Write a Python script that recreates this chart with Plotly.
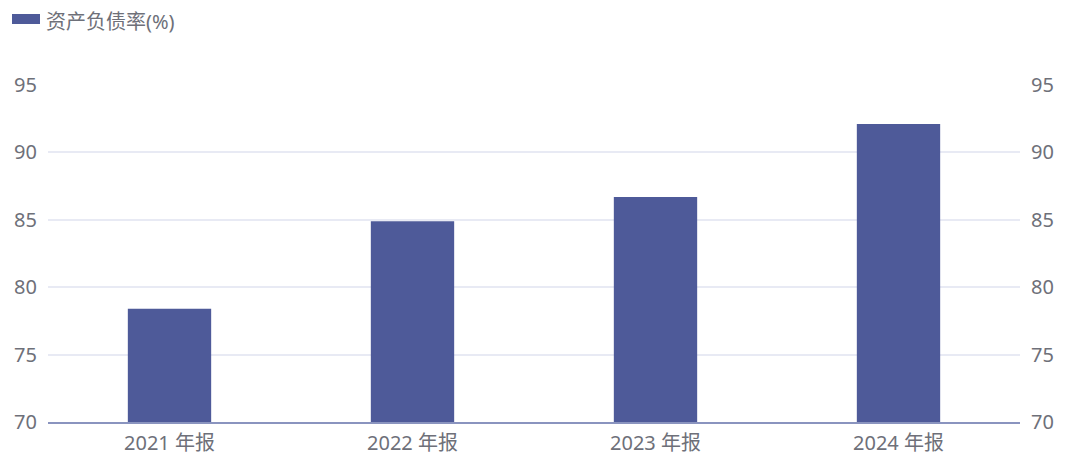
import plotly.graph_objects as go

categories = ["2021 年报", "2022 年报", "2023 年报", "2024 年报"]
debt_ratio = [78.4, 84.9, 86.7, 92.1]
series_name = "资产负债率(%)"
y_ticks = [70, 75, 80, 85, 90, 95]

FONT = "Noto Sans, Noto Sans CJK SC, sans-serif"
TXT = "#6e7079"
BAR = "#4e5a99"

# page body has an 8px margin, so the figure origin sits at (8, 8)
OFF = 8
W, H = 1072, 449
ML, MR, MT, MB = 48 - OFF, 60, 85 - OFF, 35
PW, PH = W - ML - MR, H - MT - MB


def px_x(p):
    return (p - OFF - ML) / PW


def px_y(p):
    return 1 - (p - OFF - MT) / PH


fig = go.Figure()
fig.add_trace(go.Bar(
    x=categories, y=debt_ratio, name=series_name,
    marker=dict(color=BAR, line=dict(width=0)),
    yaxis="y", showlegend=False,
))
fig.add_trace(go.Scatter(
    x=categories, y=debt_ratio, yaxis="y2", mode="markers",
    marker=dict(opacity=0), showlegend=False, hoverinfo="skip",
))

# legend (icon + label)
fig.add_shape(type="rect", xref="paper", yref="paper",
              x0=px_x(12), x1=px_x(40), y0=px_y(24), y1=px_y(14),
              fillcolor=BAR, line=dict(width=0))
fig.add_annotation(xref="paper", yref="paper", x=px_x(45), y=px_y(21.5),
                   xanchor="left", yanchor="middle", showarrow=False,
                   borderpad=0,
                   text=series_name, font=dict(size=20, color=TXT, family=FONT))

fig.update_layout(
    width=W, height=H,
    margin=dict(l=ML, r=MR, t=MT, b=MB, autoexpand=False),
    paper_bgcolor="white", plot_bgcolor="white",
    font=dict(family=FONT, color=TXT, size=20),
    bargap=0.657,
    showlegend=False,
    xaxis=dict(
        showgrid=False, showline=True, linecolor="#8a94bf", linewidth=2,
        ticks="", tickfont=dict(size=20, color=TXT), ticklabelstandoff=2,
        automargin=False,
    ),
    yaxis=dict(
        range=[70, 95], tickvals=y_ticks, showgrid=True, gridcolor="#e8eaf4",
        gridwidth=1.5, zeroline=False, showline=False, ticks="",
        tickfont=dict(size=20, color=TXT), ticklabelstandoff=10,
        automargin=False,
    ),
    yaxis2=dict(
        range=[70, 95], tickvals=y_ticks, overlaying="y", side="right",
        showgrid=False, zeroline=False, showline=False, ticks="",
        tickfont=dict(size=20, color=TXT), ticklabelstandoff=10,
        automargin=False,
    ),
)

fig.write_html("out.html")
